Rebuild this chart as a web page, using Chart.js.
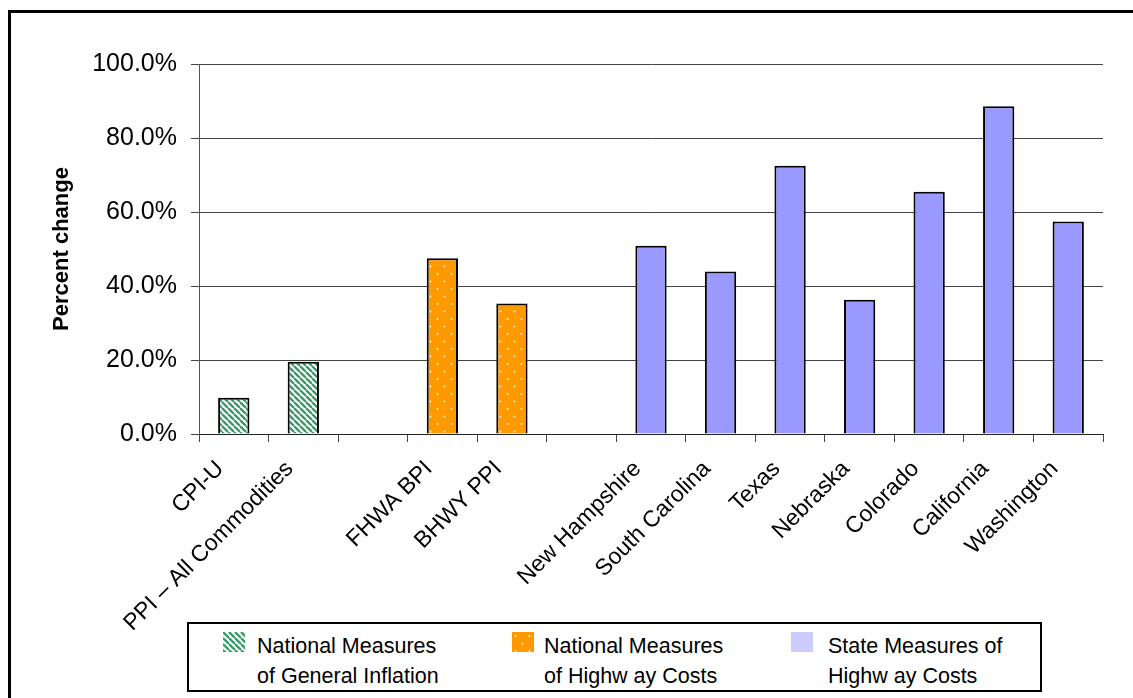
<!DOCTYPE html>
<html>
<head>
<meta charset="utf-8">
<script src="https://cdn.jsdelivr.net/npm/chart.js@4.4.0/dist/chart.umd.min.js"></script>
<style>
  body { margin: 0; background: #fff; }
  #wrap { position: relative; width: 1133px; height: 698px; overflow: hidden; font-family: "Liberation Sans", Arial, sans-serif; }
  #frame { position: absolute; left: 8px; top: 10px; width: 1300px; height: 900px; border-left: 3px solid #000; border-top: 3px solid #000; }
  #myChart { position: absolute; left: 0; top: 0; }
  #legend { position: absolute; left: 187px; top: 622px; width: 851px; height: 66px; border: 2px solid #000; background: #fff; }
  .item { position: absolute; top: 0; font-size: 21.5px; line-height: 30px; color: #000; }
  .item canvas { position: absolute; top: 8px; left: 0; }
  .item span { position: absolute; top: 6.5px; white-space: nowrap; }
</style>
</head>
<body>
<div id="wrap">
  <div id="frame"></div>
  <canvas id="myChart" width="1133" height="698"></canvas>
  <div id="legend"></div>
</div>
<script>
// categories, with two empty slots between the groups
const natGeneral = ['CPI-U', 'PPI \u2013 All Commodities'];
const natHighway = ['FHWA BPI', 'BHWY PPI'];
const states = ['New Hampshire', 'South Carolina', 'Texas', 'Nebraska', 'Colorado', 'California', 'Washington'];

// percent change
const generalValues = [9.8, 19.5];
const highwayValues = [47.5, 35.3];
const stateValues = [50.9, 43.9, 72.5, 36.3, 65.5, 88.6, 57.4];

const yTicks = [0, 20, 40, 60, 80, 100];

const legendNames = [
  ['National Measures', 'of General Inflation'],
  ['National Measures', 'of Highw ay Costs'],
  ['State Measures of', 'Highw ay Costs']
];

const labels = [].concat(natGeneral, [''], natHighway, [''], states);
const gap = [null];
const dataGeneral = [].concat(generalValues, gap, natHighway.map(() => null), gap, states.map(() => null));
const dataHighway = [].concat(natGeneral.map(() => null), gap, highwayValues, gap, states.map(() => null));
const dataState = [].concat(natGeneral.map(() => null), gap, natHighway.map(() => null), gap, stateValues);

const fontFamily = '"Liberation Sans", Arial, sans-serif';

// fill patterns
function makeTile(w, h) {
  const c = document.createElement('canvas');
  c.width = w; c.height = h;
  return c;
}

function stripeTile() {
  const c = makeTile(6, 6);
  const g = c.getContext('2d');
  g.fillStyle = '#fff';
  g.fillRect(0, 0, 6, 6);
  g.strokeStyle = '#3a9a6a';
  g.lineWidth = 2.3;
  g.beginPath();
  for (let k = -6; k <= 12; k += 6) {
    g.moveTo(k, 0);
    g.lineTo(k + 6, 6);
  }
  g.stroke();
  return c;
}

function dotTile() {
  const c = makeTile(14, 15);
  const g = c.getContext('2d');
  g.fillStyle = '#ff9900';
  g.fillRect(0, 0, 14, 15);
  g.fillStyle = '#fff3dd';
  g.beginPath(); g.arc(3.5, 4, 1, 0, Math.PI * 2); g.fill();
  g.beginPath(); g.arc(10.5, 11.5, 1, 0, Math.PI * 2); g.fill();
  return c;
}

const ctx = document.getElementById('myChart').getContext('2d');
const stripes = ctx.createPattern(stripeTile(), 'repeat');
const dots = ctx.createPattern(dotTile(), 'repeat');

const myChart = new Chart(ctx, {
  type: 'bar',
  data: {
    labels: labels,
    datasets: [
      { label: 'general', data: dataGeneral, backgroundColor: stripes },
      { label: 'highway', data: dataHighway, backgroundColor: dots },
      { label: 'state', data: dataState, backgroundColor: '#9999ff' }
    ]
  },
  options: {
    responsive: false,
    animation: false,
    layout: { padding: { top: 64, right: 30, left: 0, bottom: 0 } },
    datasets: {
      bar: {
        categoryPercentage: 1,
        barPercentage: 0.45,
        borderColor: '#000',
        borderWidth: 2
      }
    },
    plugins: {
      legend: { display: false },
      tooltip: { enabled: false }
    },
    scales: {
      x: {
        stacked: true,
        afterFit: function (scale) { scale.height = 264; },
        grid: { drawOnChartArea: false, tickLength: 8, color: '#444' },
        border: { color: '#222', width: 1 },
        ticks: {
          autoSkip: false,
          minRotation: 45,
          maxRotation: 45,
          padding: 0,
          color: '#000',
          font: { family: fontFamily, size: 23 },
          // trailing spaces pull the rotated label down-left of its tick, like the original
          callback: function (v) { const s = this.getLabelForValue(v); return s ? s + '   ' : s; }
        }
      },
      y: {
        stacked: true,
        min: 0,
        max: 100,
        afterFit: function (scale) { scale.width = 199; },
        afterBuildTicks: function (scale) { scale.ticks = yTicks.map(v => ({ value: v })); },
        grid: { color: '#444', tickLength: 8 },
        border: { color: '#555', width: 1 },
        ticks: {
          padding: 14,
          color: '#000',
          font: { family: fontFamily, size: 25 },
          callback: function (v) { return v.toFixed(1) + '%'; }
        },
        title: {
          display: true,
          text: 'Percent change',
          color: '#000',
          padding: { top: 49, bottom: 0 },
          font: { family: fontFamily, size: 22, weight: 'bold' }
        }
      }
    }
  }
});

// legend box
const legend = document.getElementById('legend');
const swatchFills = [stripes, dots, '#ccccff'];
const swatchX = [34, 323, 602];
const textX = [68, 355, 639];

legendNames.forEach(function (lines, i) {
  const item = document.createElement('div');
  item.className = 'item';
  item.style.left = swatchX[i] + 'px';

  const sw = document.createElement('canvas');
  sw.width = 22; sw.height = 20;
  const g = sw.getContext('2d');
  const tile = i === 0 ? stripeTile() : (i === 1 ? dotTile() : null);
  g.fillStyle = tile ? g.createPattern(tile, 'repeat') : swatchFills[i];
  g.fillRect(0, 0, 22, 20);
  item.appendChild(sw);

  const txt = document.createElement('span');
  txt.style.left = (textX[i] - swatchX[i]) + 'px';
  txt.innerHTML = lines.join('<br>');
  item.appendChild(txt);

  legend.appendChild(item);
});
</script>
</body>
</html>
